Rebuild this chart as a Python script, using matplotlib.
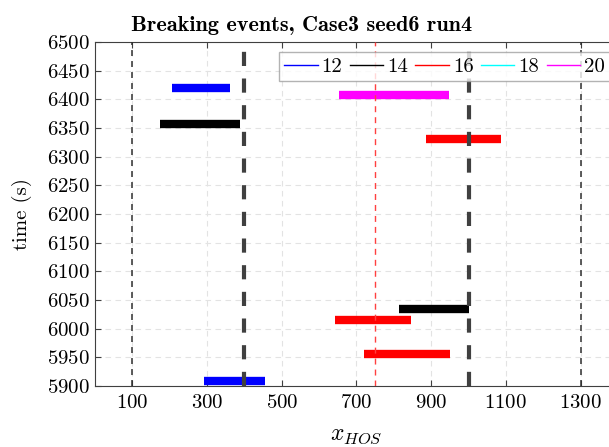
import matplotlib.pyplot as plt
import numpy as np

plt.rcParams['font.family'] = 'serif'
plt.rcParams['font.serif'] = ['cmr10']
plt.rcParams['mathtext.fontset'] = 'cm'
plt.rcParams['axes.formatter.use_mathtext'] = True

# breaking events: wave group, x start, x end, time
groups = [12, 14, 16, 18, 20]
colors = ['blue', 'black', 'red', 'cyan', 'magenta']
ev_group = [12, 14, 20, 16, 14, 16, 16, 12]
ev_x0 = [207, 174, 653, 886, 815, 642, 720, 292]
ev_x1 = [362, 387, 947, 1086, 1002, 846, 950, 454]
ev_t = [6420, 6357, 6407, 6330, 6034, 6015, 5955, 5909]

thin_lines = [100, 1300]
thick_lines = [400, 1000]
red_line = 750

fig = plt.figure(figsize=(6.09, 4.47), dpi=100)
ax = fig.add_axes([95/609, 61/447, (618-95)/609, 344/447])

cmap = dict(zip(groups, colors))
for g, a, b, t in zip(ev_group, ev_x0, ev_x1, ev_t):
    ax.plot([a, b], [t, t], color=cmap[g], lw=6, solid_capstyle='butt', zorder=3)

for xv in thin_lines:
    ax.axvline(xv, color='#303030', lw=1.1, ls=(0, (3.9, 3.3)), zorder=4)
for xv in thick_lines:
    ax.axvline(xv, color='#404040', lw=3.0, ls=(0, (3.4, 3.0)), zorder=4)
ax.axvline(red_line, color='#ff4040', lw=1.0, ls=(0, (4.3, 3.6)), zorder=4)

ax.set_xlim(0, 1400)
ax.set_ylim(5900, 6500)
ax.set_xticks(np.arange(100, 1400, 200))
ax.set_yticks(np.arange(5900, 6501, 50))
ax.tick_params(direction='in', labelsize=15, color='#404040', length=4, top=True)
ax.tick_params(axis='x', pad=6)
ax.grid(True, ls=(0, (5, 4)), color='#e3e3e3', lw=0.8)
for s in ax.spines.values():
    s.set_color('#404040')
    s.set_linewidth(0.8)
ax.spines['right'].set_visible(False)

fig.text(302/609, 1-31/447, 'Breaking events, Case3 seed6 run4',
         fontfamily='cmb10', fontsize=16, ha='center', va='baseline')
ax.set_xlabel(r'$x_{HOS}$', fontsize=17, labelpad=8)
ax.set_ylabel('time (s)', fontsize=15)
ax.yaxis.set_label_coords((32-95)/523, 0.5)

handles = [plt.Line2D([], [], color=c, lw=1) for c in colors]
fig.legend(handles, [str(g) for g in groups], ncol=5, loc='upper left',
           bbox_to_anchor=(279/609, 1-52/447), fontsize=15, frameon=True,
           fancybox=False, edgecolor='#a0a0a0', handlelength=1.6,
           handletextpad=0.2, columnspacing=0.35, borderpad=0.25, borderaxespad=0)

plt.savefig('out.png')
